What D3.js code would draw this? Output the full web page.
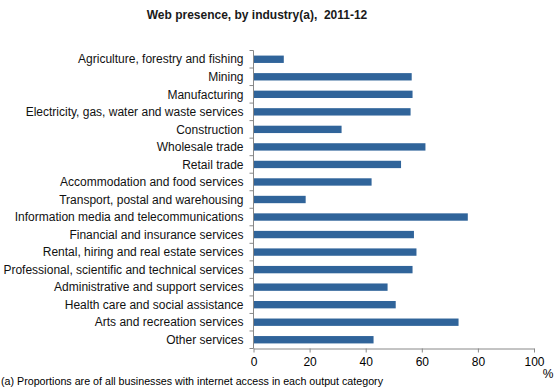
<!DOCTYPE html>
<html>
<head>
<meta charset="utf-8">
<script src="https://cdn.jsdelivr.net/npm/d3@7"></script>
<style>
  body { margin: 0; background: #fff; }
  text { font-family: "Liberation Sans", Arial, sans-serif; fill: #000; }
</style>
</head>
<body>
<svg id="chart" width="556" height="388"></svg>
<script>
const industries = [
  'Agriculture, forestry and fishing',
  'Mining',
  'Manufacturing',
  'Electricity, gas, water and waste services',
  'Construction',
  'Wholesale trade',
  'Retail trade',
  'Accommodation and food services',
  'Transport, postal and warehousing',
  'Information media and telecommunications',
  'Financial and insurance services',
  'Rental, hiring and real estate services',
  'Professional, scientific and technical services',
  'Administrative and support services',
  'Health care and social assistance',
  'Arts and recreation services',
  'Other services',
];
const webPresence = [10.8, 56.4, 56.7, 56.0, 31.4, 61.3, 52.6, 42.1, 18.6, 76.4, 57.2, 58.1, 56.7, 47.8, 50.7, 73.1, 42.8];
const xTicks = [0, 20, 40, 60, 80, 100];

const margin = { top: 50.5, left: 253.5, right: 22, bottom: 39.5 };
const width = 556, height = 388;
const svg = d3.select('#chart');

const x = d3.scaleLinear().domain([0, 100]).range([margin.left, width - margin.right]);
const y = d3.scaleBand()
  .domain(industries)
  .range([margin.top, height - margin.bottom])
  .paddingInner(0.58)
  .paddingOuter(0.29);

// title (keep the double space)
svg.append('text')
  .attr('x', 257).attr('y', 19)
  .attr('text-anchor', 'middle')
  .style('font-size', '12px').style('font-weight', 'bold')
  .style('white-space', 'pre')
  .style('fill', '#1a1a1a')
  .text('Web presence, by industry(a),  2011-12');

// bars
svg.selectAll('.bar')
  .data(industries)
  .enter()
  .append('rect')
  .attr('class', 'bar')
  .attr('x', x(0))
  .attr('y', d => y(d))
  .attr('width', (d, i) => x(webPresence[i]) - x(0))
  .attr('height', y.bandwidth())
  .attr('fill', '#30649a');

// y axis: line + ticks between categories
const yAxis = svg.append('g').attr('class', 'yAxis');
const step = y.step();
const yTicks = d3.range(industries.length + 1).map(i => margin.top + i * step);
yAxis.append('line')
  .attr('x1', x(0)).attr('x2', x(0))
  .attr('y1', margin.top).attr('y2', height - margin.bottom)
  .attr('stroke', '#888');
yAxis.selectAll('.tick')
  .data(yTicks)
  .enter()
  .append('line')
  .attr('x1', x(0) - 4).attr('x2', x(0))
  .attr('y1', d => d).attr('y2', d => d)
  .attr('stroke', '#888');
yAxis.selectAll('.label')
  .data(industries)
  .enter()
  .append('text')
  .attr('x', x(0) - 10)
  .attr('y', d => y(d) + y.bandwidth() / 2)
  .attr('dy', '0.35em')
  .attr('text-anchor', 'end')
  .style('font-size', '12px')
  .style('fill', '#111')
  .text(d => d);

// x axis
const xAxis = svg.append('g')
  .attr('class', 'xAxis')
  .attr('transform', `translate(0,${height - margin.bottom})`)
  .call(d3.axisBottom(x).tickValues(xTicks).tickSize(4).tickPadding(5).tickSizeOuter(0));
xAxis.select('.domain').attr('stroke', '#888');
xAxis.selectAll('.tick line').attr('stroke', '#888');
xAxis.selectAll('.tick text')
  .style('font-size', '12px')
  .style('font-family', '"Liberation Sans", Arial, sans-serif')
  .attr('fill', '#111');

svg.append('text')
  .attr('x', 548).attr('y', 378)
  .attr('text-anchor', 'middle')
  .style('font-size', '12px')
  .text('%');

// footnote
svg.append('text')
  .attr('x', 1).attr('y', 384.5)
  .style('font-size', '10.7px')
  .text('(a) Proportions are of all businesses with internet access in each output category');
</script>
</body>
</html>
